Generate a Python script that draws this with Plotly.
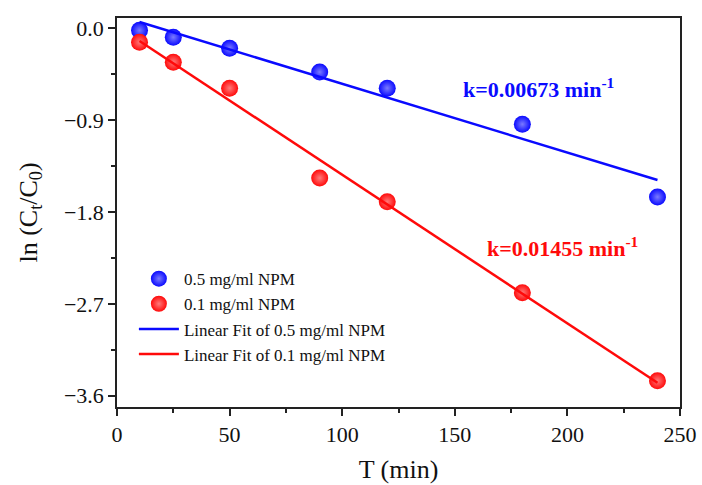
import numpy as np
import plotly.graph_objects as go

t_min = [10, 25, 50, 90, 120, 180, 240]
ln_05 = [-0.02, -0.088, -0.196, -0.43, -0.587, -0.94, -1.653]
ln_01 = [-0.137, -0.333, -0.587, -1.467, -1.70, -2.59, -3.453]
x_ticks = [0, 50, 100, 150, 200, 250]
y_ticks = [0.0, -0.9, -1.8, -2.7, -3.6]

BLUE = "#0a0aff"
RED = "#ff0a0a"
FONT = "Liberation Serif"

x = np.array(t_min, dtype=float)
fit_x = np.array([x.min(), x.max()])
p05 = np.polyfit(x, ln_05, 1)
p01 = np.polyfit(x, ln_01, 1)

fig = go.Figure()
fig.add_trace(go.Scatter(x=t_min, y=ln_05, mode="markers", name="0.5 mg/ml NPM",
                         marker=dict(size=17, color=BLUE,
                                     gradient=dict(type="radial", color="#7a7aff"))))
fig.add_trace(go.Scatter(x=t_min, y=ln_01, mode="markers", name="0.1 mg/ml NPM",
                         marker=dict(size=17, color=RED,
                                     gradient=dict(type="radial", color="#ff7a7a"))))
fig.add_trace(go.Scatter(x=fit_x, y=np.polyval(p05, fit_x), mode="lines",
                         name="Linear Fit of 0.5 mg/ml NPM", line=dict(color=BLUE, width=2.5)))
fig.add_trace(go.Scatter(x=fit_x, y=np.polyval(p01, fit_x), mode="lines",
                         name="Linear Fit of 0.1 mg/ml NPM", line=dict(color=RED, width=2.5)))

fig.add_annotation(x=187, y=-0.59, text="<b>k=0.00673 min<sup>-1</sup></b>", showarrow=False,
                   font=dict(family=FONT, size=22, color=BLUE))
fig.add_annotation(x=198, y=-2.14, text="<b>k=0.01455 min<sup>-1</sup></b>", showarrow=False,
                   font=dict(family=FONT, size=22, color=RED))

axis_common = dict(showline=True, linecolor="#222", linewidth=1.5, mirror=True,
                   ticks="outside", ticklen=7, tickwidth=1.5, tickcolor="#222",
                   showgrid=False, zeroline=False, automargin=False,
                   tickfont=dict(family=FONT, size=22, color="#111"))

fig.update_xaxes(range=[0, 250], tickvals=x_ticks,
                 minor=dict(ticks="outside", ticklen=4, tickwidth=1.5, tickcolor="#222", dtick=25, showgrid=False),
                 title=dict(text="T (min)", font=dict(family=FONT, size=26, color="#111"), standoff=14),
                 **axis_common)
fig.update_yaxes(range=[-3.71, 0.1], tickvals=y_ticks, tickformat=".1f",
                 minor=dict(ticks="outside", ticklen=4, tickwidth=1.5, tickcolor="#222", dtick=0.45, tick0=0, showgrid=False),
                 title=dict(text="ln (C<sub>t</sub>/C<sub>0</sub>)", font=dict(family=FONT, size=26, color="#111"), standoff=19),
                 **axis_common)

fig.update_layout(
    width=702, height=485,
    margin=dict(l=117, r=22, t=18, b=78),
    plot_bgcolor="white", paper_bgcolor="white",
    legend=dict(x=0.03, y=0.375, xanchor="left", yanchor="top",
                bgcolor="rgba(0,0,0,0)", font=dict(family=FONT, size=17, color="#111"),
                tracegroupgap=0, itemsizing="trace", itemwidth=40),
    showlegend=True,
)

fig.write_html("out.html", config={"displayModeBar": False},
               post_script="document.body.style.margin='0';document.body.style.overflow='hidden';")
